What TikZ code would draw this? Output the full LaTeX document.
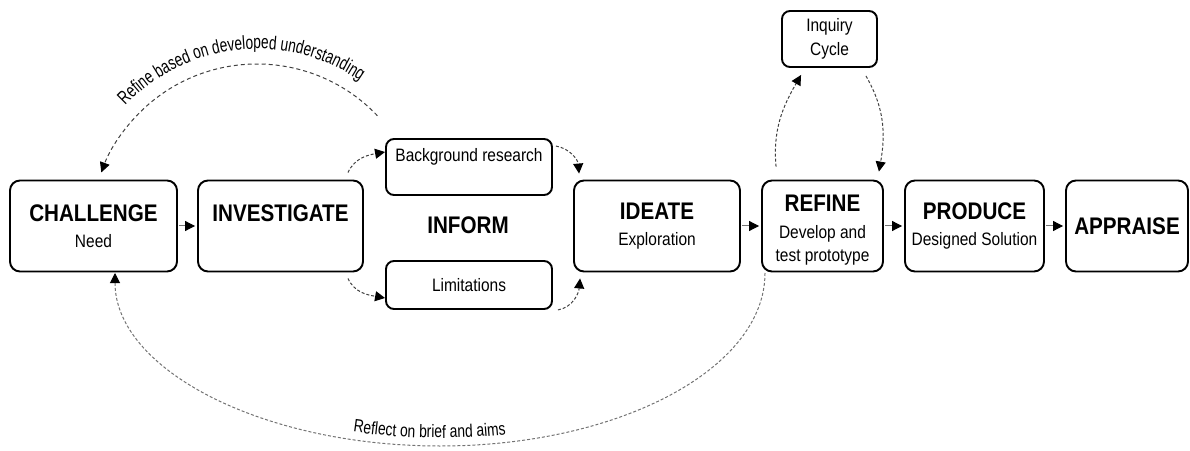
\documentclass[tikz,border=0pt]{standalone}
\usepackage{fontspec}
\setmainfont[FakeStretch=0.86]{Liberation Sans}
\newfontfamily\arcfamA[FakeStretch=0.72]{Liberation Sans}
\newfontfamily\arcfamB[FakeStretch=0.77]{Liberation Sans}
\usetikzlibrary{arrows.meta,calc,decorations.text}
\newcommand\ttlfont{\fontsize{24}{26}\selectfont\bfseries}
\newcommand\subfnt{\fontsize{18}{23.5}\selectfont}
\newcommand\arcfntA{\arcfamA\fontsize{19}{21}\selectfont}
\newcommand\arcfntB{\arcfamB\fontsize{18}{20}\selectfont}
\begin{document}
\begin{tikzpicture}[x=1pt,y=1pt,
  box/.style={draw=black, line width=1.9pt, rounded corners=10pt, inner sep=0pt, align=center, font=\subfnt},
  smallbox/.style={box, rounded corners=8pt},
  ttl/.style={font=\ttlfont},
  flow/.style={draw=black!55, line width=1pt, -{Triangle[length=10pt,width=10pt,color=black]}, shorten <=1pt, shorten >=2pt},
  dasharrow/.style={draw=black!75, line width=1pt, dash pattern=on 3pt off 2pt, -{Triangle[length=10pt,width=10pt,color=black]}},
  arclabel/.style={decorate, decoration={text along path, text align=center, text={#1}}}
]
\useasboundingbox (0,0) rectangle (1190,450);

% main boxes
\node[box, minimum width=167, minimum height=91] (ch) at (93.5,224) {{\ttlfont CHALLENGE}\\[2.5pt]Need};
\node[box, minimum width=165, minimum height=91] (inv) at (280.5,224) {{\ttlfont INVESTIGATE}\\[2.5pt]\phantom{Need}};
\node[smallbox, minimum width=166, minimum height=56] (bg) at (469,283) {Background research\\\mbox{}};
\node[smallbox, minimum width=166, minimum height=48] (lim) at (469,165) {Limitations};
\node[ttl] (inform) at (468,225) {INFORM};
\node[box, minimum width=166, minimum height=91] (ide) at (657,224) {{\ttlfont IDEATE}\\[2.5pt]Exploration};
\node[box, minimum width=121, minimum height=91] (ref) at (822.5,224) {{\ttlfont\rule{0pt}{25pt}REFINE}\\[3pt]Develop and\\test prototype};
\node[box, minimum width=139, minimum height=91] (pro) at (974.5,224) {{\ttlfont PRODUCE}\\[2.5pt]Designed Solution};
\node[box, minimum width=122, minimum height=91] (app) at (1127,224) {{\ttlfont APPRAISE}};
\node[smallbox, minimum width=95, minimum height=56] (inq) at (829.5,411) {Inquiry\\Cycle};

% solid flow arrows
\draw[flow] (ch) -- (inv);
\draw[flow] (ide) -- (ref);
\draw[flow] (ref) -- (pro);
\draw[flow] (pro) -- (app);

% dashed connectors
\draw[dasharrow] ($(inv.north east)+(-16,7)$) to[out=65,in=190] ($(bg.west)+(0,15)$);
\draw[dasharrow] ($(inv.south east)+(-16,-6)$) to[out=-65,in=170] ($(lim.west)+(0,-13)$);
\draw[dasharrow] ($(bg.north east)+(3,-8)$) to[out=-10,in=95] ($(ide.north west)+(6,6)$);
\draw[dasharrow] ($(lim.south east)+(5,0)$) to[out=10,in=-95] ($(ide.south west)+(7,-6)$);
\draw[dasharrow] ($(ref.north west)+(15,13)$) to[out=95,in=-120] ($(inq.south west)+(20,-7)$);
\draw[dasharrow] ($(inq.south east)+(-12,-8)$) to[out=-60,in=80] ($(ref.north east)+(-5,8)$);

% big feedback arcs
\coordinate (tstart) at ($(257,220)+(43.5:166)$);
\draw[dasharrow, dash pattern=on 4pt off 3pt] (tstart) arc[start angle=43.5, end angle=159.7, radius=166];
\coordinate (bstart) at (765,177);
\draw[dasharrow, draw=black!55] (bstart) arc[start angle=0, end angle=-180, x radius=325, y radius=173];

% arc labels
\coordinate (tl) at ($(257,220)+(156:181)$);
\path[arclabel={|\arcfntA|Refine based on developed understanding}] (tl) arc[start angle=156, end angle=36, radius=181];
\coordinate (bl) at ($(440,177)+({318*cos(-112)},{165*sin(-112)})$);
\path[arclabel={|\arcfntB|Reflect on brief and aims}] (bl) arc[start angle=-112, end angle=-72, x radius=318, y radius=165];
\end{tikzpicture}
\end{document}
